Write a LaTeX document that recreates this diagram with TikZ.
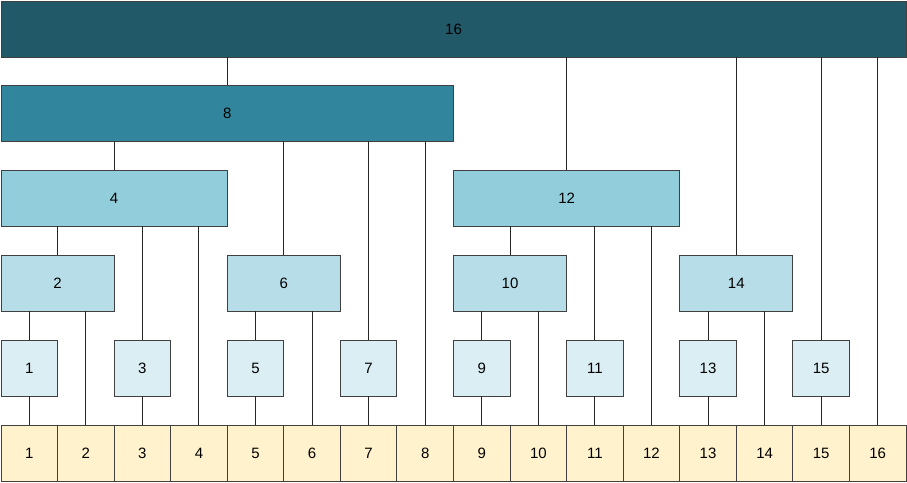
\documentclass[tikz,border=0pt]{standalone}
\usepackage{fontspec}
\setmainfont{Liberation Sans}
\usepackage{xcolor}
\usetikzlibrary{positioning}
\definecolor{lvA}{HTML}{DAEEF3}
\definecolor{lvB}{HTML}{B7DEE8}
\definecolor{lvC}{HTML}{92CDDC}
\definecolor{lvD}{HTML}{31859C}
\definecolor{lvE}{HTML}{215968}
\definecolor{cellfill}{HTML}{FFF2CC}

\begin{document}
\begin{tikzpicture}[
  x=1pt, y=-1pt,
  box/.style={draw=black!75, line width=1pt, inner sep=0pt, outer sep=0pt, minimum height=56pt, font=\fontsize{15}{17}\selectfont},
  link/.style={line width=1pt, black!85}
]
\useasboundingbox (0,0) rectangle (907,482);
% Bottom array
\foreach \j in {1,...,16} {
  \node[box, fill=cellfill, minimum width=56.5625pt] (c\j) at ({1+(\j-0.5)*56.5625}, 453) {\j};
}
% Tree nodes
\foreach \j/\k/\y/\c in {1/1/368/lvA, 3/1/368/lvA, 5/1/368/lvA, 7/1/368/lvA, 9/1/368/lvA, 11/1/368/lvA, 13/1/368/lvA, 15/1/368/lvA,
  2/2/283/lvB, 6/2/283/lvB, 10/2/283/lvB, 14/2/283/lvB,
  4/4/198/lvC, 12/4/198/lvC,
  8/8/113/lvD,
  16/16/29/lvE} {
  \node[box, fill=\c, minimum width=\k*56.5625pt] (t\j) at ({1+(\j-\k/2)*56.5625}, \y) {\j};
}
% Array to tree
\foreach \j in {1,...,16} {
  \draw[link] (c\j.north) -- (c\j.north |- t\j.south);
}
% Child to parent
\foreach \j/\p in {1/2, 2/4, 3/4, 4/8, 5/6, 6/8, 7/8, 8/16, 9/10, 10/12, 11/12, 12/16, 13/14, 14/16, 15/16} {
  \draw[link] (t\j.north) -- (t\j.north |- t\p.south);
}
\end{tikzpicture}
\end{document}
